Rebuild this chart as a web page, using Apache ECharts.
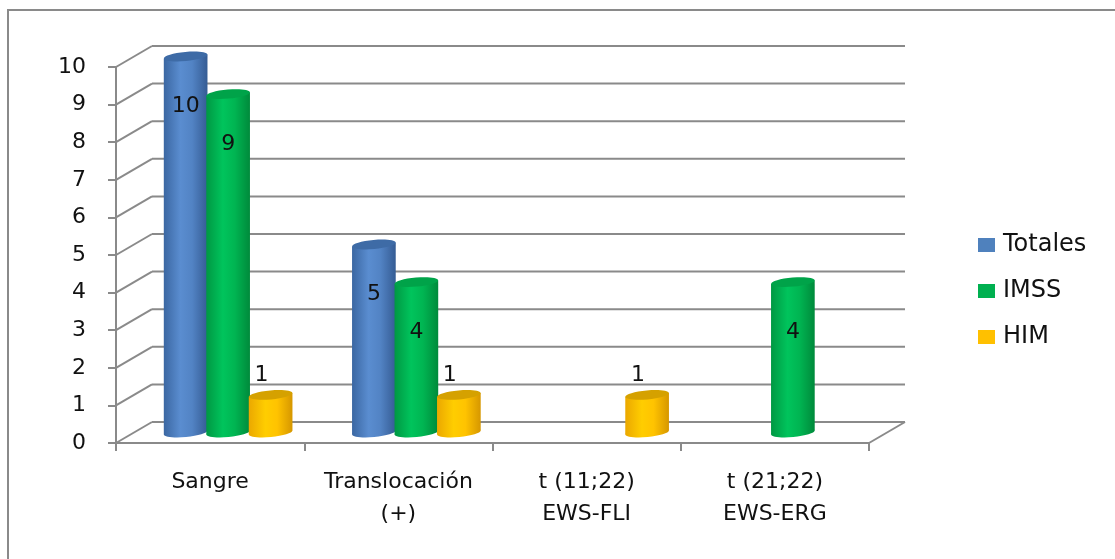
<!DOCTYPE html>
<html>
<head>
<meta charset="utf-8">
<script src="https://cdn.jsdelivr.net/npm/echarts@6/dist/echarts.min.js"></script>
<style>
  html, body { margin: 0; padding: 0; background: #ffffff; }
  #chart { width: 1115px; height: 559px; }
</style>
</head>
<body>
<div id="chart"></div>
<script>
// Category names and counts per group
const categories = ['Sangre', 'Translocación\n(+)', 't (11;22)\nEWS-FLI', 't (21;22)\nEWS-ERG'];
const totales = [10, 5, null, null];
const imss = [9, 4, null, 4];
const him = [1, 1, 1, null];
const yTicks = [0, 1, 2, 3, 4, 5, 6, 7, 8, 9, 10];

// Pseudo-3D depth of the plot box (screen offset of the back wall)
const DEPTH_X = 36;
const DEPTH_Y = -21;
const FONT = 'DejaVu Sans';
const LINE_COLOR = '#8a8a8a';
const TEXT_COLOR = '#111111';

const palettes = {
  Totales: {
    legend: '#4f81bd',
    body: ['#3b67a2', '#5a8dd0', '#5283c4', '#355c94'],
    top: '#3e6ba6'
  },
  IMSS: {
    legend: '#00b050',
    body: ['#009843', '#00c45c', '#00b552', '#008a3b'],
    top: '#00a349'
  },
  HIM: {
    legend: '#ffc000',
    body: ['#eba800', '#ffcd00', '#ffc300', '#d69700'],
    top: '#d5a100'
  }
};

function wallSeries() {
  const style = { stroke: LINE_COLOR, lineWidth: 2, fill: null };
  return {
    type: 'custom',
    name: 'wall',
    silent: true,
    clip: false,
    z: 1,
    data: yTicks.map(v => [0, v]),
    encode: { x: 0, y: 1 },
    renderItem(params, api) {
      const cs = params.coordSys;
      const v = api.value(1);
      const y = api.coord([0, v])[1];
      const x0 = cs.x;
      const x1 = cs.x + cs.width;
      const children = [
        { type: 'line', shape: { x1: x0, y1: y, x2: x0 + DEPTH_X, y2: y + DEPTH_Y }, style },
        { type: 'line', shape: { x1: x0 + DEPTH_X, y1: y + DEPTH_Y, x2: x1 + DEPTH_X, y2: y + DEPTH_Y }, style }
      ];
      if (v === 0) {
        children.push({ type: 'line', shape: { x1: x1, y1: y, x2: x1 + DEPTH_X, y2: y + DEPTH_Y }, style });
      }
      return { type: 'group', children };
    }
  };
}

function cylinderSeries(name, values, slot, labelMode) {
  const pal = palettes[name];
  const tilt = 0.09;
  return {
    type: 'custom',
    name,
    clip: false,
    z: 3 + slot,
    itemStyle: { color: pal.legend },
    data: values.map((v, i) => [i, v]).filter(d => d[1] != null),
    encode: { x: 0, y: 1 },
    renderItem(params, api) {
      const i = api.value(0);
      const v = api.value(1);
      const topPt = api.coord([i, v]);
      const basePt = api.coord([i, 0]);
      const W = api.size([1, 0])[0];
      const barW = W * 0.232;
      const rx = barW / 2;
      const ry = 4.5;
      const cx = topPt[0] + DEPTH_X / 2 + slot * W * 0.2257;
      const yt = topPt[1] + DEPTH_Y / 2;
      const yb = basePt[1] + DEPTH_Y / 2;
      const t = rx * Math.sin(tilt);
      const grad = new echarts.graphic.LinearGradient(0, 0, 1, 0, [
        { offset: 0, color: pal.body[0] },
        { offset: 0.38, color: pal.body[1] },
        { offset: 0.65, color: pal.body[2] },
        { offset: 1, color: pal.body[3] }
      ]);
      const children = [
        {
          type: 'ellipse',
          shape: { cx: cx, cy: yb, rx: rx, ry: ry },
          rotation: tilt, originX: cx, originY: yb,
          style: { fill: grad }
        },
        {
          type: 'polygon',
          shape: { points: [[cx - rx, yt + t], [cx + rx, yt - t], [cx + rx, yb - t], [cx - rx, yb + t]] },
          style: { fill: grad }
        },
        {
          type: 'ellipse',
          shape: { cx: cx, cy: yt, rx: rx, ry: ry },
          rotation: tilt, originX: cx, originY: yt,
          style: { fill: pal.top }
        }
      ];
      const label = labelMode === 'inside'
        ? { x: cx, y: yt + 50 }
        : { x: cx - 9, y: yt - 20 };
      children.push({
        type: 'text',
        x: label.x, y: label.y,
        z2: 10,
        style: {
          text: String(v),
          fill: TEXT_COLOR,
          font: '22px "' + FONT + '"',
          align: 'center',
          verticalAlign: 'middle'
        }
      });
      return { type: 'group', children };
    }
  };
}

const chart = echarts.init(document.getElementById('chart'), null, { renderer: 'canvas' });

chart.setOption({
  animation: false,
  backgroundColor: '#ffffff',
  graphic: [{
    type: 'rect',
    silent: true,
    shape: { x: 8, y: 10, width: 2000, height: 1000 },
    style: { fill: null, stroke: LINE_COLOR, lineWidth: 2 }
  }],
  legend: {
    orient: 'vertical',
    left: 973,
    top: 227,
    itemWidth: 17,
    itemHeight: 14,
    itemGap: 20,
    icon: 'rect',
    selectedMode: false,
    textStyle: { fontFamily: FONT, fontSize: 24, lineHeight: 26, color: TEXT_COLOR, padding: [0, 0, 0, 3] },
    data: [
      { name: 'Totales', itemStyle: { color: palettes.Totales.legend } },
      { name: 'IMSS', itemStyle: { color: palettes.IMSS.legend } },
      { name: 'HIM', itemStyle: { color: palettes.HIM.legend } }
    ]
  },
  grid: { left: 116, right: 246, top: 67, bottom: 116, containLabel: false },
  xAxis: {
    type: 'category',
    data: categories,
    boundaryGap: true,
    axisLine: { show: true, lineStyle: { color: LINE_COLOR, width: 2 } },
    axisTick: { show: true, length: 8, inside: false, alignWithLabel: false, lineStyle: { color: LINE_COLOR, width: 2 } },
    axisLabel: { interval: 0, fontFamily: FONT, fontSize: 22, lineHeight: 32, margin: 23, color: TEXT_COLOR },
    splitLine: { show: false }
  },
  yAxis: {
    type: 'value',
    min: 0,
    max: 10,
    interval: 1,
    axisLine: { show: true, lineStyle: { color: LINE_COLOR, width: 2 } },
    axisTick: { show: true, length: 8, inside: false, lineStyle: { color: LINE_COLOR, width: 2 } },
    axisLabel: { fontFamily: FONT, fontSize: 22, margin: 30, color: TEXT_COLOR },
    splitLine: { show: false }
  },
  series: [
    wallSeries(),
    cylinderSeries('Totales', totales, -1, 'inside'),
    cylinderSeries('IMSS', imss, 0, 'inside'),
    cylinderSeries('HIM', him, 1, 'above')
  ]
});
</script>
</body>
</html>
